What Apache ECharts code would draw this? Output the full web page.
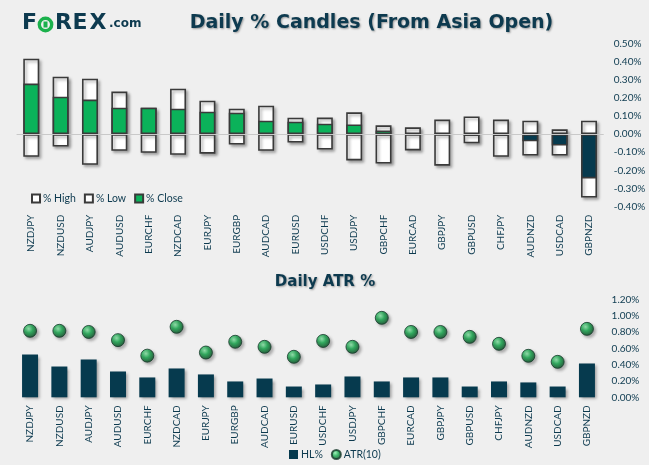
<!DOCTYPE html>
<html><head><meta charset="utf-8">
<script src="https://cdn.jsdelivr.net/npm/echarts@6/dist/echarts.min.js"></script>
<style>html,body{margin:0;padding:0;background:#efefef}#c{width:649px;height:465px}</style>
</head><body><div id="c"></div>
<script>
const categories = ['NZDJPY','NZDUSD','AUDJPY','AUDUSD','EURCHF','NZDCAD','EURJPY','EURGBP','AUDCAD','EURUSD','USDCHF','USDJPY','GBPCHF','EURCAD','GBPJPY','GBPUSD','CHFJPY','AUDNZD','USDCAD','GBPNZD'];
const highPct  = [0.415,0.316,0.305,0.234,0.145,0.250,0.184,0.140,0.156,0.090,0.091,0.120,0.048,0.037,0.080,0.097,0.080,0.074,0.026,0.074];
const lowPct   = [-0.125,-0.069,-0.169,-0.092,-0.103,-0.114,-0.108,-0.058,-0.092,-0.047,-0.085,-0.145,-0.162,-0.090,-0.174,-0.051,-0.125,-0.118,-0.118,-0.350];
const closePct = [0.278,0.206,0.190,0.145,0.145,0.140,0.123,0.118,0.074,0.068,0.057,0.053,0.020,0.004,0.000,-0.010,-0.010,-0.040,-0.063,-0.244];
const hlPct    = [0.524,0.377,0.463,0.316,0.243,0.353,0.280,0.194,0.230,0.132,0.157,0.255,0.194,0.243,0.243,0.132,0.194,0.182,0.132,0.414];
const atrPct   = [0.814,0.814,0.800,0.700,0.510,0.863,0.548,0.680,0.618,0.496,0.690,0.618,0.973,0.800,0.800,0.740,0.655,0.508,0.434,0.838];
const candleTicks = [-0.4,0.5,0.1];
const atrTicks = [0,1.2,0.2];

const NAVY = '#0d3a4f', DARK = '#063a4e', GREEN = '#0bb25a', BORDER = '#3a3a3a';
const lblFont = 'Lato';
const shadow = {shadowBlur:3, shadowOffsetX:2, shadowOffsetY:2, shadowColor:'rgba(0,0,0,0.35)'};
const pct = v => v.toFixed(2) + '%';

const chart = echarts.init(document.getElementById('c'), null, {renderer:'canvas'});
const xCommon = {
  type:'category', data:categories, axisLine:{show:false}, axisTick:{show:false},
  axisLabel:{rotate:90, margin:8, color:NAVY, fontFamily:lblFont, fontSize:10}
};
const yCommon = {
  type:'value', position:'right', splitLine:{show:false}, axisLine:{show:false}, axisTick:{show:false},
  axisLabel:{margin:10, color:NAVY, fontFamily:lblFont, fontSize:10, formatter:pct}
};
const candleBar = {borderColor:BORDER, borderWidth:1.6, ...shadow};
const logoFont = 'bold 22px "DejaVu Sans"';

chart.setOption({
  backgroundColor:'#efefef',
  animation:false,
  grid:[
    {left:16.6, right:45.3, top:43.3, height:163.4},
    {left:15.4, right:47.4, top:299.3, height:98}
  ],
  xAxis:[ {...xCommon, gridIndex:0}, {...xCommon, gridIndex:1} ],
  yAxis:[
    {...yCommon, gridIndex:0, min:candleTicks[0], max:candleTicks[1], interval:candleTicks[2]},
    {...yCommon, gridIndex:1, min:atrTicks[0], max:atrTicks[1], interval:atrTicks[2]}
  ],
  legend:[
    {left:26, top:188, itemWidth:8, itemHeight:8, itemGap:8, icon:'rect',
     textStyle:{color:NAVY, fontFamily:lblFont, fontSize:10.5, padding:[0,0,0,-2]},
     data:['% High','% Low','% Close']},
    {left:284, top:444, itemWidth:9, itemHeight:9, itemGap:8,
     textStyle:{color:NAVY, fontFamily:lblFont, fontSize:10.5, padding:[0,0,0,-2]},
     data:[{name:'HL%', icon:'rect'},{name:'ATR(10)', icon:'circle'}]}
  ],
  graphic:[
    {type:'text', left:22, top:12, style:{text:'F', font:logoFont, fill:NAVY}},
    {type:'circle', shape:{cx:45.5, cy:24.5, r:6.2}, style:{fill:'none', stroke:'#1bb14c', lineWidth:3.4}},
    {type:'rect', shape:{x:43.5, y:21.5, width:4, height:6}, style:{fill:'#1bb14c'}},
    {type:'text', left:55, top:12, style:{text:'R', font:logoFont, fill:NAVY}},
    {type:'text', left:72.5, top:12, style:{text:'E', font:logoFont, fill:NAVY}},
    {type:'text', left:89.5, top:12, style:{text:'X', font:logoFont, fill:NAVY}},
    {type:'text', left:109, top:18, style:{text:'.com', font:'bold 12px "DejaVu Sans"', fill:NAVY}},
    {type:'text', x:371.5, y:23, style:{text:'Daily % Candles (From Asia Open)', font:'bold 19px "DejaVu Sans"', fill:NAVY, align:'center', verticalAlign:'middle', textShadowColor:'rgba(0,0,0,0.35)', textShadowBlur:2, textShadowOffsetX:1, textShadowOffsetY:1}},
    {type:'text', x:325, y:282.5, style:{text:'Daily ATR %', font:'bold 15px "DejaVu Sans"', fill:NAVY, align:'center', verticalAlign:'middle', textShadowColor:'rgba(0,0,0,0.35)', textShadowBlur:2, textShadowOffsetX:1, textShadowOffsetY:1}}
  ],
  series:[
    {name:'% High', type:'bar', xAxisIndex:0, yAxisIndex:0, data:highPct, barWidth:16, barGap:'-100%',
     itemStyle:{color:'#ffffff', ...candleBar}},
    {name:'% Low', type:'bar', xAxisIndex:0, yAxisIndex:0, data:lowPct, barWidth:16, barGap:'-100%',
     itemStyle:{color:'#ffffff', ...candleBar}},
    {name:'% Close', type:'bar', xAxisIndex:0, yAxisIndex:0, barWidth:16, barGap:'-100%',
     data:closePct.map(v => ({value:v, itemStyle:{color: v >= 0 ? GREEN : DARK}})),
     itemStyle:{color:GREEN, borderColor:BORDER, borderWidth:1.6},
     markLine:{silent:true, symbol:'none', label:{show:false}, lineStyle:{color:'#c9c9c9', type:'solid', width:1.2}, data:[{yAxis:0}]}},
    {name:'HL%', type:'bar', xAxisIndex:1, yAxisIndex:1, data:hlPct, barWidth:16,
     itemStyle:{color:DARK, ...shadow}},
    {name:'ATR(10)', type:'scatter', xAxisIndex:1, yAxisIndex:1, data:atrPct, symbolSize:13,
     itemStyle:{color:{type:'radial', x:0.4, y:0.35, r:0.65, colorStops:[{offset:0,color:'#8ef0ad'},{offset:0.45,color:'#13a84b'},{offset:1,color:'#05481f'}]},
       borderColor:'#16382a', borderWidth:1, ...shadow}}
  ]
});
</script></body></html>
